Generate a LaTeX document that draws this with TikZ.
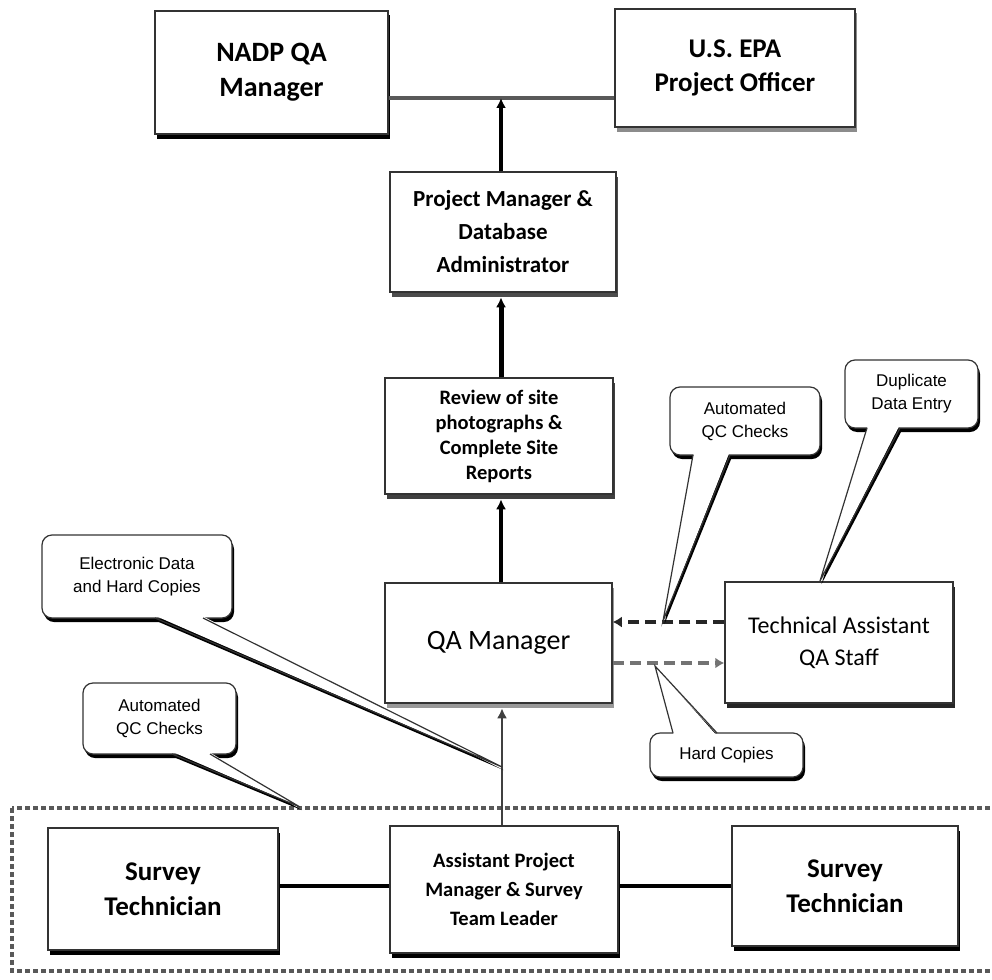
\documentclass[tikz,border=0pt]{standalone}
\usepackage{fontspec}
\setmainfont{Carlito}
\newfontfamily\callfont{Liberation Sans}
\usetikzlibrary{arrows.meta,shadows,calc}
\begin{document}
\begin{tikzpicture}[x=1pt,y=-1pt,
  orgbox/.style={draw=black!80, line width=1.5pt, fill=white, align=center, inner sep=0pt,
    drop shadow={shadow xshift=2pt, shadow yshift=-4.5pt, fill=#1, opacity=1}},
  orgbox/.default=black,
  callbox/.style={draw=black!80, line width=1.2pt, fill=white, align=center, inner sep=0pt,
    rounded corners=10pt, font=\callfont\fontsize{17}{23}\selectfont,
    drop shadow={shadow xshift=2pt, shadow yshift=-4pt, fill=black, opacity=1}},
  wedgeline/.style={draw=black!80, line width=1.2pt},
  uparrow/.style={line width=4pt, draw=black, -{Latex[length=10pt,width=10pt]}},
  hlink/.style={line width=4.5pt, draw=black},
  dasharrow/.style={line width=4pt, dash pattern=on 11pt off 6pt, -{Latex[length=9pt,width=11pt]}},
  groupframe/.style={draw=black!65, line width=3.5pt, dash pattern=on 5pt off 3pt}
]
\useasboundingbox (0,0) rectangle (992,979);

% group frame
\draw[groupframe] (12,808) rectangle (1010,971);

% top level boxes
\node[orgbox=black, font=\bfseries\fontsize{28}{35}\selectfont, minimum width=233pt, minimum height=123pt] (nadp) at (271.5,72.5) {NADP QA\\Manager};
\node[orgbox=black!45, font=\bfseries\fontsize{27}{34}\selectfont, minimum width=240pt, minimum height=118pt] (epa) at (735,68) {U.S. EPA\\Project Officer};
\node[orgbox=black!70, font=\bfseries\fontsize{23}{33}\selectfont, minimum width=226pt, minimum height=120pt] (pm) at (503,232) {Project Manager \&\\Database\\Administrator};
\node[orgbox=black!75, font=\bfseries\fontsize{20.5}{25}\selectfont, minimum width=228pt, minimum height=116pt] (rev) at (499,436) {Review of site\\photographs \&\\Complete Site\\Reports};
\node[orgbox=black!40, font=\fontsize{28}{35}\selectfont, minimum width=227pt, minimum height=120pt] (qa) at (498.5,643) {QA Manager};
\node[orgbox=black!85, font=\fontsize{24}{32}\selectfont, minimum width=228pt, minimum height=121pt] (ta) at (839,642.5) {Technical Assistant\\QA Staff};
\node[orgbox=black, font=\bfseries\fontsize{27}{35}\selectfont, minimum width=230pt, minimum height=122pt] (st1) at (163,889) {Survey\\Technician};
\node[orgbox=black, font=\bfseries\fontsize{20.5}{29}\selectfont, minimum width=228pt, minimum height=127pt] (apm) at (504,889.5) {Assistant Project\\Manager \& Survey\\Team Leader};
\node[orgbox=black, font=\bfseries\fontsize{27}{35}\selectfont, minimum width=226pt, minimum height=120pt] (st2) at (845,886) {Survey\\Technician};

% connectors
\coordinate (topj) at (501,98);
\draw[hlink, draw=black!65] (nadp.east |- topj) -- (epa.west |- topj);
\draw[uparrow] (pm.north -| topj) -- (topj);
\draw[uparrow, line width=5pt] (rev.north -| topj) -- ($(pm.south -| topj)+(0,4.5)$);
\draw[uparrow] (qa.north -| topj) -- ($(rev.south -| topj)+(0,4.5)$);
\coordinate (apmj) at (502,767);
\draw[uparrow, line width=2.5pt, draw=black!75] (apm.north -| apmj) -- ($(qa.south -| apmj)+(0,4.5)$);
\coordinate (hj) at (0,886);
\draw[hlink] (st1.east |- hj) -- (apm.west |- hj);
\draw[hlink] (apm.east |- hj) -- (st2.west |- hj);
\coordinate (dj1) at (0,622);
\coordinate (dj2) at (0,663);
\draw[dasharrow, draw=black!85] (ta.west |- dj1) -- (qa.east |- dj1);
\draw[dasharrow, draw=black!55] (qa.east |- dj2) -- (ta.west |- dj2);

% callout pointers (base points and tips)
\coordinate (c1a) at (155,618); \coordinate (c1b) at (203,618); \coordinate (c1t) at (apmj);
\coordinate (c2a) at (172,754); \coordinate (c2b) at (210,754); \coordinate (c2t) at (300,807);
\coordinate (c3a) at (693,455); \coordinate (c3b) at (730,455); \coordinate (c3t) at (663,621);
\coordinate (c4a) at (867,428); \coordinate (c4b) at (900,428); \coordinate (c4t) at (820,581);
\coordinate (c5a) at (673,733); \coordinate (c5b) at (717,733); \coordinate (c5t) at (655,666);
\foreach \c in {c1,c2,c3,c4,c5} {
  \fill[black] ($(\c a)+(1.5,3)$) -- ($(\c b)+(1.5,3)$) -- ($(\c t)+(1.5,3)$) -- cycle;
}

% callout boxes
\node[callbox, minimum width=190pt, minimum height=83pt] (c1) at (137,576.5) {Electronic Data\\and Hard Copies};
\node[callbox, minimum width=153pt, minimum height=71pt] (c2) at (159.5,718.5) {Automated\\QC Checks};
\node[callbox, minimum width=150pt, minimum height=68pt] (c3) at (745,421) {Automated\\QC Checks};
\node[callbox, minimum width=133pt, minimum height=68pt] (c4) at (911.5,394) {Duplicate\\Data Entry};
\node[callbox, minimum width=153pt, minimum height=44pt] (c5) at (726.5,755) {Hard Copies};

\foreach \c/\s in {c1/-2, c2/-2, c3/-2, c4/-2, c5/2} {
  \fill[white] ($(\c a)+(0.8,\s)$) -- ($(\c b)+(-0.8,\s)$) -- (\c t) -- cycle;
  \draw[wedgeline] (\c a) -- (\c t) -- (\c b);
}
\end{tikzpicture}
\end{document}
